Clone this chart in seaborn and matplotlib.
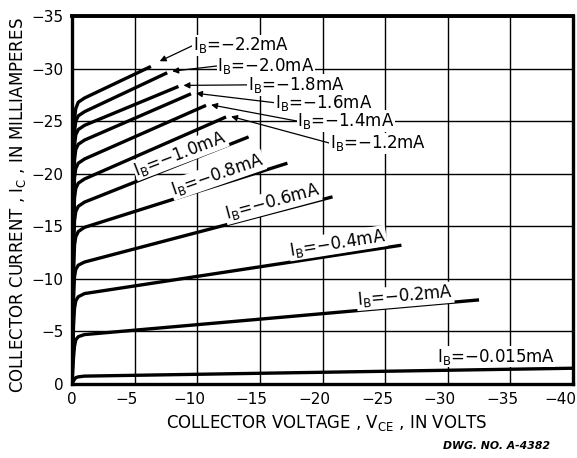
import numpy as np
import pandas as pd
import matplotlib
matplotlib.use("Agg")
import matplotlib.pyplot as plt
import matplotlib.transforms as mtrans
import seaborn as sns

# ---------------- data ----------------
ib_labels = ["-2.2", "-2.0", "-1.8", "-1.6", "-1.4", "-1.2",
             "-1.0", "-0.8", "-0.6", "-0.4", "-0.2", "-0.015"]

vce_22 = [0, -0.12, -0.2, -0.3, -0.5, -1.0, -6.3]
ic_22 = [0, -20.0, -25.2, -26.2, -26.8, -27.2, -30.2]
vce_20 = [0, -0.12, -0.2, -0.3, -0.5, -1.0, -7.6]
ic_20 = [0, -19.0, -24.0, -25.0, -25.5, -25.9, -29.6]
vce_18 = [0, -0.12, -0.2, -0.3, -0.5, -1.0, -8.5]
ic_18 = [0, -18.0, -22.7, -23.7, -24.2, -24.6, -28.3]
vce_16 = [0, -0.12, -0.2, -0.3, -0.5, -1.0, -9.5]
ic_16 = [0, -17.0, -21.3, -22.3, -22.8, -23.2, -27.6]
vce_14 = [0, -0.12, -0.2, -0.3, -0.5, -1.0, -10.7]
ic_14 = [0, -15.5, -19.6, -20.5, -21.0, -21.4, -26.5]
vce_12 = [0, -0.12, -0.2, -0.3, -0.5, -1.0, -12.3]
ic_12 = [0, -14.0, -17.7, -18.6, -19.1, -19.5, -25.4]
vce_10 = [0, -0.12, -0.2, -0.3, -0.5, -1.0, -14.1]
ic_10 = [0, -12.5, -15.5, -16.4, -16.9, -17.3, -23.5]
vce_08 = [0, -0.12, -0.2, -0.3, -0.5, -1.0, -17.2]
ic_08 = [0, -10.5, -13.2, -14.0, -14.5, -14.9, -21.0]
vce_06 = [0, -0.12, -0.2, -0.3, -0.5, -1.0, -20.8]
ic_06 = [0, -8.0, -10.2, -10.9, -11.3, -11.6, -17.8]
vce_04 = [0, -0.12, -0.2, -0.3, -0.5, -1.0, -26.3]
ic_04 = [0, -5.5, -7.2, -7.9, -8.3, -8.6, -13.2]
vce_02 = [0, -0.12, -0.2, -0.3, -0.5, -1.0, -32.5]
ic_02 = [0, -2.5, -3.6, -4.2, -4.5, -4.7, -8.0]
vce_0015 = [0, -0.12, -0.2, -0.3, -0.5, -1.0, -40.0]
ic_0015 = [0, -0.3, -0.45, -0.6, -0.68, -0.75, -1.5]

x_ticks = [0, -5, -10, -15, -20, -25, -30, -35, -40]
y_ticks = [0, -5, -10, -15, -20, -25, -30, -35]

curves_v = [vce_22, vce_20, vce_18, vce_16, vce_14, vce_12,
            vce_10, vce_08, vce_06, vce_04, vce_02, vce_0015]
curves_i = [ic_22, ic_20, ic_18, ic_16, ic_14, ic_12,
            ic_10, ic_08, ic_06, ic_04, ic_02, ic_0015]

rows = []
for lab, vv, ii in zip(ib_labels, curves_v, curves_i):
    for v, i in zip(vv, ii):
        rows.append({"IB": lab, "VCE": v, "IC": i})
df = pd.DataFrame(rows)

# ---------------- figure ----------------
sns.set_theme(style="white")
plt.rcParams["font.family"] = ["DejaVu Sans"]
plt.rcParams["axes.unicode_minus"] = True

fig = plt.figure(figsize=(5.77, 4.58), dpi=100)
ax = fig.add_axes([72 / 577, 1 - 384 / 458, 501 / 577, 368 / 458])

ax.set_xlim(0, -40)
ax.set_ylim(0, -35)
ax.set_xticks(x_ticks)
ax.set_yticks(y_ticks)
ax.set_xticklabels([("%d" % t).replace("-", "\u2212") for t in x_ticks])
ax.set_yticklabels([("%d" % t).replace("-", "\u2212") for t in y_ticks])
ax.grid(True, color="black", linewidth=1.0)
ax.set_axisbelow(True)
ax.tick_params(length=0, labelsize=11, colors="black", pad=6)
for s in ax.spines.values():
    s.set_color("black")
    s.set_linewidth(2.4)
ax.spines["top"].set_linewidth(2.8)

sns.lineplot(data=df, x="VCE", y="IC", units="IB", estimator=None, sort=False,
             color="black", linewidth=2.4, ax=ax, legend=False, zorder=3)
for ln in ax.lines:
    ln.set_solid_capstyle("butt")
    ln.set_solid_joinstyle("round")

ax.set_xlabel("COLLECTOR VOLTAGE , V$_{\\mathrm{CE}}$ , IN VOLTS", fontsize=12, color="black")
ax.set_ylabel("COLLECTOR CURRENT , I$_{\\mathrm{C}}$ , IN MILLIAMPERES", fontsize=12, color="black")
ax.xaxis.set_label_coords((327 - 72) / 501, (384 - 423) / 368)
ax.yaxis.set_label_coords((18 - 72) / 501, (384 - 205) / 368)
ax.xaxis.label.set_va("center")
ax.yaxis.label.set_va("center")

fs = 12
box = dict(facecolor="white", edgecolor="none", pad=0.5)

# arrowed labels: (label, text x, text y, arrow tip x, arrow tip y)
arrow_labels = [
    ("-2.2", -9.66, -32.2, -7.0, -30.7),
    ("-2.0", -11.6, -30.25, -8.0, -29.75),
    ("-1.8", -14.05, -28.45, -8.9, -28.4),
    ("-1.6", -16.2, -26.75, -9.9, -27.65),
    ("-1.4", -18.0, -25.0, -11.1, -26.55),
    ("-1.2", -20.6, -22.9, -12.7, -25.45),
]
for lab, tx, ty, ax_, ay_ in arrow_labels:
    ax.annotate("I$_{\\mathrm{B}}$=" + lab.replace("-", "\u2212") + "mA",
                xy=(ax_, ay_), xytext=(tx, ty), textcoords="data",
                ha="left", va="center", fontsize=fs, color="black",
                bbox=box, zorder=4,
                arrowprops=dict(arrowstyle="-|>", color="black", lw=0.9,
                                shrinkA=0, shrinkB=0, mutation_scale=9,
                                relpos=(0.0, 0.5)))

# inline rotated labels: (label, center x, center y, angle)
inline_labels = [
    ("-1.0", -8.62, -21.9, 21),
    ("-0.8", -11.6, -19.9, 19),
    ("-0.6", -16.0, -17.3, 15),
    ("-0.4", -21.2, -13.4, 9),
    ("-0.2", -26.6, -8.35, 5),
    ("-0.015", -33.85, -2.6, 0),
]
for lab, cx, cy, ang in inline_labels:
    ax.text(cx, cy, "I$_{\\mathrm{B}}$=" + lab.replace("-", "\u2212") + "mA",
            ha="center", va="center", rotation=ang, rotation_mode="anchor",
            fontsize=fs, color="black", bbox=box, zorder=4)

fig.text(550 / 577, 1 - 446 / 458, "DWG. NO. A-4382", ha="right", va="center",
         fontsize=7.8, fontweight="bold", fontstyle="italic", color="black")

# shift negative x tick labels left like the reference lettering
fig.canvas.draw()
for lbl, t in zip(ax.get_xticklabels(), x_ticks):
    if t == 0:
        continue
    dx = 13 if t == -40 else 8
    lbl.set_transform(lbl.get_transform() +
                      mtrans.ScaledTranslation(-dx / 100, 0, fig.dpi_scale_trans))

fig.savefig("out.png", dpi=100, facecolor="white")
